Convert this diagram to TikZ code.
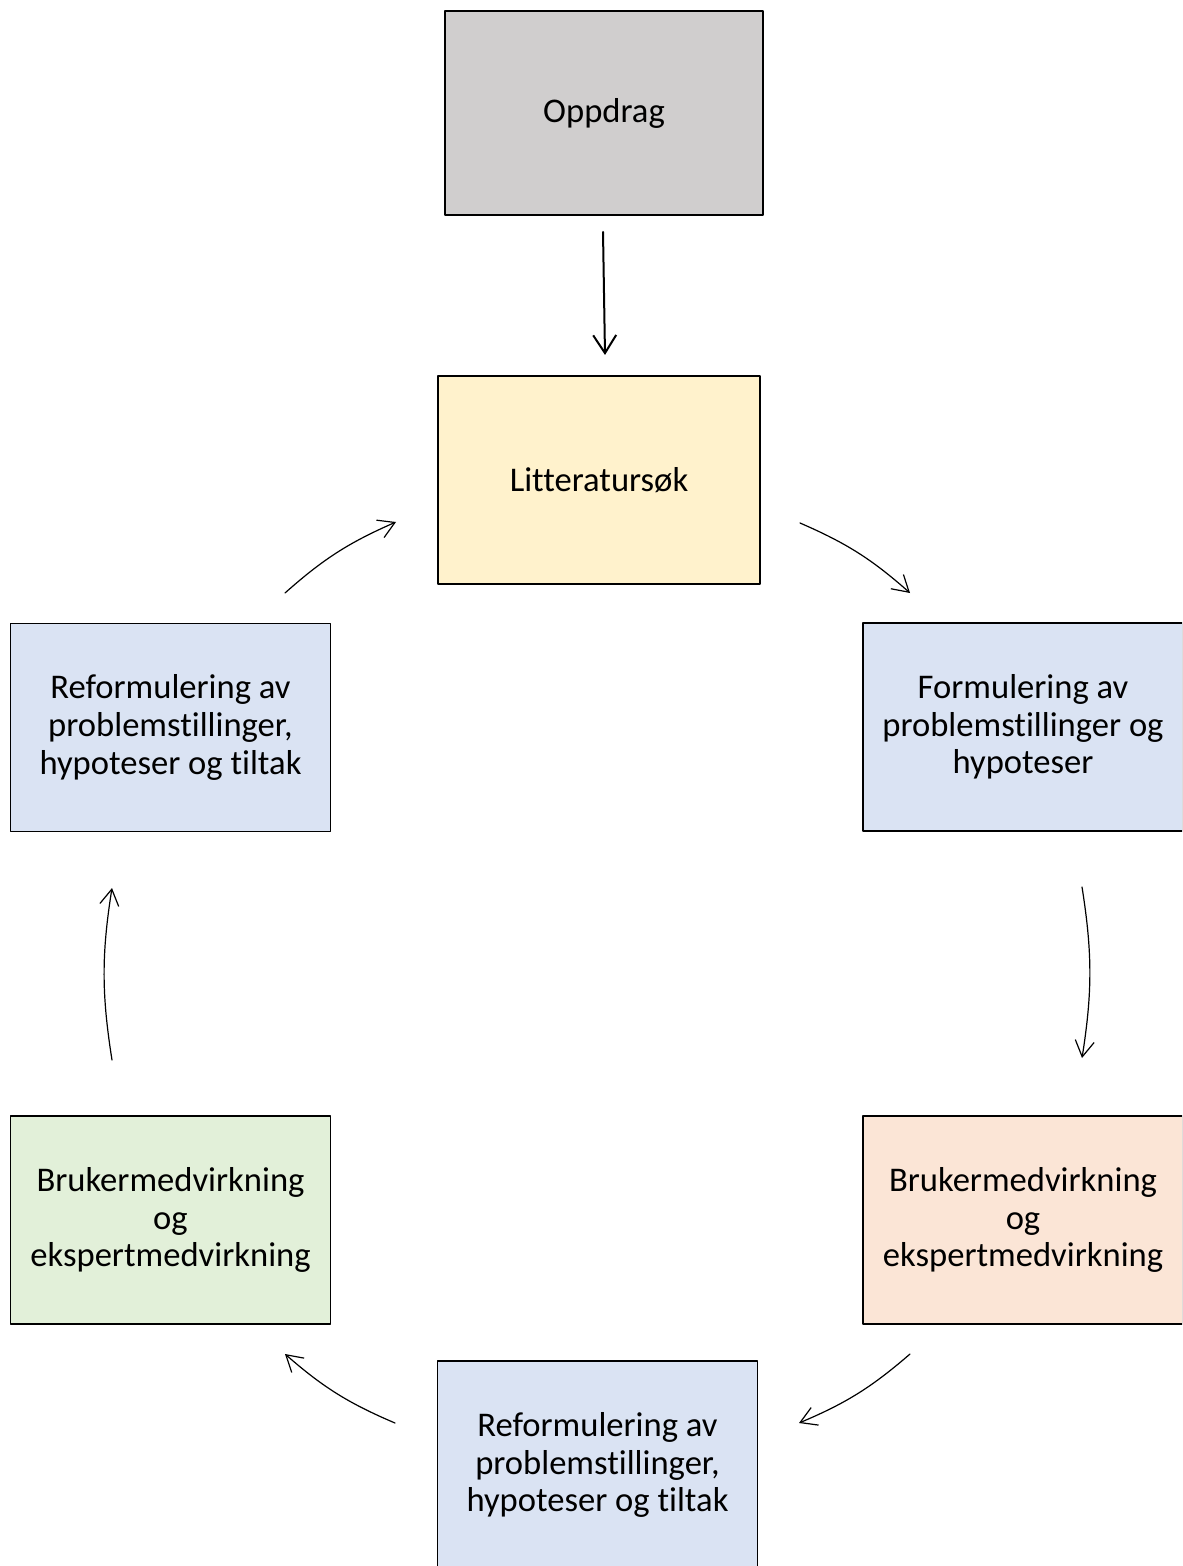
\documentclass[tikz,border=0pt]{standalone}
\usepackage{fontspec}
\setmainfont{Carlito}[Ligatures=CommonOff]
\usetikzlibrary{arrows.meta}
\definecolor{oppfill}{HTML}{D0CECE}
\definecolor{litfill}{HTML}{FFF2CC}
\definecolor{blafill}{HTML}{DAE3F3}
\definecolor{oransjefill}{HTML}{FBE5D6}
\definecolor{gronnfill}{HTML}{E2F0D9}
\begin{document}
\begin{tikzpicture}[x=0.5pt,y=0.5pt,font=\fontsize{17.3}{18.8}\selectfont,line join=round,line cap=round,
  boks/.style={draw,line width=0.95pt,minimum width=160pt,minimum height=104pt,align=center,inner sep=0pt},
  syklus/.style={line width=0.6pt,-{Straight Barb[length=8pt,width=9.5pt,line width=0.6pt]}},
  hovedpil/.style={line width=1pt,-{Straight Barb[length=9pt,width=11.5pt,line width=1pt]}}]
\useasboundingbox (0,0) rectangle (1182,-1566);
\clip (0,0) rectangle (1182,-1566);
\node[boks,fill=oppfill,minimum width=159pt,minimum height=102pt] (opp) at (604,-113) {Oppdrag};
\node[boks,fill=litfill,minimum width=161pt] (lit) at (599,-480) {Litteratursøk};
\node[boks,fill=blafill] (form) at (1023,-727) {Formulering av\\problemstillinger og\\hypoteser};
\node[boks,fill=oransjefill] (brur) at (1023,-1220) {Brukermedvirkning\\og\\ekspertmedvirkning};
\node[boks,fill=blafill] (refb) at (597.5,-1465) {Reformulering av\\problemstillinger,\\hypoteser og tiltak};
\node[boks,fill=gronnfill] (brul) at (170.5,-1220) {Brukermedvirkning\\og\\ekspertmedvirkning};
\node[boks,fill=blafill] (refl) at (170.5,-727.5) {Reformulering av\\problemstillinger,\\hypoteser og tiltak};
% pilendene
\coordinate (o1) at (603,-232); \coordinate (o2) at (605,-355);
\coordinate (a1) at (800,-523); \coordinate (a2) at (910,-593);
\coordinate (b1) at (1082,-887); \coordinate (b2) at (1082,-1058);
\coordinate (c1) at (910,-1354); \coordinate (c2) at (799,-1423);
\coordinate (d1) at (395,-1423); \coordinate (d2) at (285,-1354);
\coordinate (e1) at (112,-1060); \coordinate (e2) at (112,-888);
\coordinate (f1) at (285,-593); \coordinate (f2) at (396,-522);
\draw[hovedpil] (o1) -- (o2);
\foreach \s/\e/\b in {a1/a2/9,b1/b2/9,c1/c2/9,d1/d2/9,e1/e2/9,f1/f2/9}{\draw[syklus] (\s) to[bend left=\b] (\e);}
\end{tikzpicture}
\end{document}
